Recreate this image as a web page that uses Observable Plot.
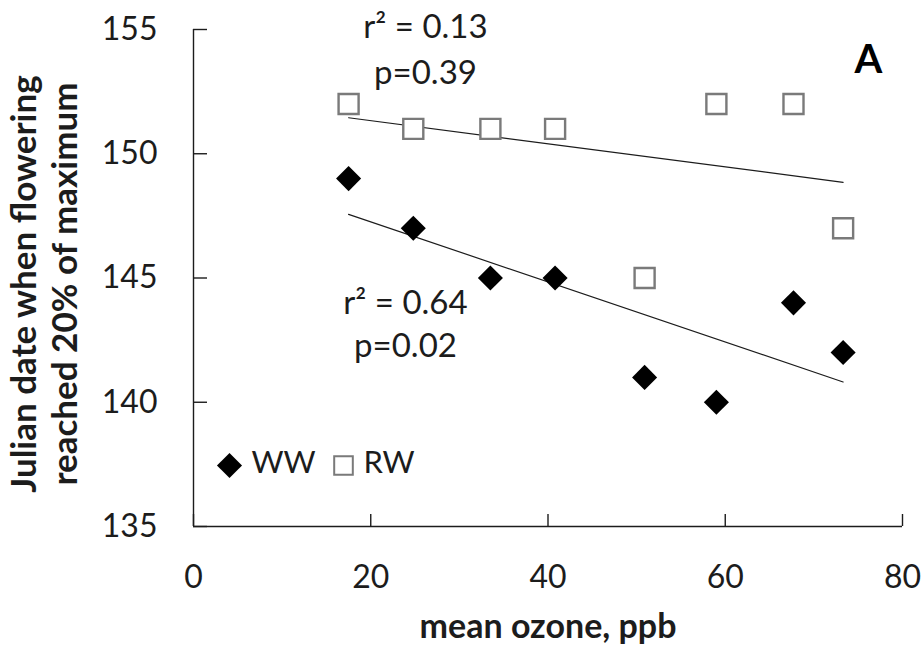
<!DOCTYPE html>
<html><head><meta charset="utf-8">
<script src="https://cdn.jsdelivr.net/npm/d3@7"></script>
<script src="https://cdn.jsdelivr.net/npm/@observablehq/plot@0.6"></script>
<style>body{margin:0;background:#fff} svg{display:block}</style>
</head><body><div id="chart"></div>
<script>
// ---- data ----
const ozone  = [17.5, 24.8, 33.5, 40.8, 50.9, 59.0, 67.7, 73.3];
const wwDate = [149, 147, 145, 145, 141, 140, 144, 142];
const rwDate = [152, 151, 151, 151, 145, 152, 152, 147];
const xTicks = [0, 20, 40, 60, 80];
const yTicks = [135, 140, 145, 150, 155];
const seriesNames = ["WW", "RW"];
const rwStats = ["r\u00B2 = 0.13", "p=0.39"];
const wwStats = ["r\u00B2 = 0.64", "p=0.02"];
const panelLabel = "A";
const xLabel = "mean ozone, ppb";
const yLabel = ["Julian date when flowering", "reached 20% of maximum"];

const ww = ozone.map((x, i) => ({x, y: wwDate[i]}));
const rw = ozone.map((x, i) => ({x, y: rwDate[i]}));

// ---- layout ----
const W = 923, H = 651, mL = 193, mR = 21, mT = 29, mB = 125;
const fw = W - mL - mR, fh = H - mT - mB;
const font = "Lato, 'Open Sans', sans-serif";
const ink = "#1c1c1c";
const gray = "#7a7a7a";

const chart = Plot.plot({
  width: W, height: H,
  marginLeft: mL, marginRight: mR, marginTop: mT, marginBottom: mB,
  style: {fontFamily: font, color: ink, background: "#fff", overflow: "visible"},
  x: {domain: [0, 80]},
  y: {domain: [135, 155]},
  marks: [
    Plot.axisX(xTicks, {tickSize: 0, tickPadding: 39, fontSize: 32, label: null, fill: ink}),
    Plot.axisY(yTicks, {tickSize: 0, tickPadding: 36, fontSize: 32, label: null, fill: ink}),
    Plot.tickY(yTicks, {y: d => d, insetRight: fw - 14, stroke: ink, strokeWidth: 1.4}),
    Plot.tickX(xTicks, {x: d => d, insetTop: fh - 12, stroke: ink, strokeWidth: 1.4}),
    Plot.ruleX([0], {stroke: ink, strokeWidth: 1.4}),
    Plot.ruleY([135], {stroke: ink, strokeWidth: 1.4}),
    Plot.linearRegressionY(rw, {x: "x", y: "y", ci: 0, stroke: ink, strokeWidth: 1.2}),
    Plot.linearRegressionY(ww, {x: "x", y: "y", ci: 0, stroke: ink, strokeWidth: 1.2}),
    Plot.dot(rw, {x: "x", y: "y", symbol: "square", r: 11.3, fill: "#fff", stroke: gray, strokeWidth: 2.4}),
    Plot.dot(ww, {x: "x", y: "y", symbol: "diamond2", r: 11.3, fill: "#000", stroke: "none"}),
    // legend
    Plot.dot([seriesNames[0]], {frameAnchor: "bottom-left", dx: 36, dy: -61, symbol: "diamond2", r: 11.3, fill: "#000"}),
    Plot.text([seriesNames[0]], {frameAnchor: "bottom-left", dx: 58, dy: -63, textAnchor: "start", lineAnchor: "middle", fontSize: 31, fill: ink}),
    Plot.dot([seriesNames[1]], {frameAnchor: "bottom-left", dx: 150, dy: -61, symbol: "square", r: 10.5, fill: "#fff", stroke: gray, strokeWidth: 2}),
    Plot.text([seriesNames[1]], {frameAnchor: "bottom-left", dx: 170, dy: -63, textAnchor: "start", lineAnchor: "middle", fontSize: 31, fill: ink}),
    // annotations
    Plot.text([rwStats[0]], {frameAnchor: "top-left", dx: 232, dy: -2, textAnchor: "middle", lineAnchor: "middle", fontSize: 33, fill: ink}),
    Plot.text([rwStats[1]], {frameAnchor: "top-left", dx: 232, dy: 44, textAnchor: "middle", lineAnchor: "middle", fontSize: 33, fill: ink}),
    Plot.text([wwStats[0]], {frameAnchor: "top-left", dx: 212, dy: 274, textAnchor: "middle", lineAnchor: "middle", fontSize: 33, fill: ink}),
    Plot.text([wwStats[1]], {frameAnchor: "top-left", dx: 212, dy: 317, textAnchor: "middle", lineAnchor: "middle", fontSize: 33, fill: ink}),
    Plot.text([panelLabel], {frameAnchor: "top-left", dx: 675, dy: 31, textAnchor: "middle", lineAnchor: "middle", fontSize: 40, fontWeight: "bold", fill: "#000"}),
    // axis titles
    Plot.text([xLabel], {frameAnchor: "bottom", dy: 101, textAnchor: "middle", lineAnchor: "middle", fontSize: 34, fontWeight: "bold", fill: ink}),
    Plot.text([yLabel.join("\n")], {frameAnchor: "left", dx: -150, dy: 6, rotate: -90, textAnchor: "middle", lineAnchor: "middle", lineHeight: 1.18, fontSize: 35, fontWeight: "bold", fill: ink})
  ]
});
document.getElementById("chart").append(chart);
</script>
</body></html>
